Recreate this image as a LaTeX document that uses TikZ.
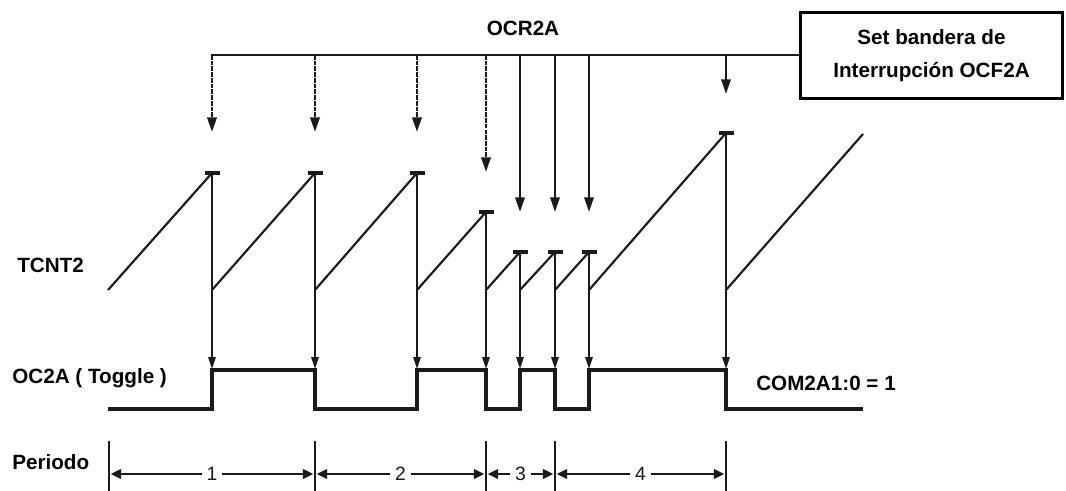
\documentclass[tikz,border=0pt]{standalone}
\usepackage{fontspec}
\setmainfont{Liberation Sans}
\usetikzlibrary{arrows.meta}
\definecolor{ink}{HTML}{1A1A1A}
\begin{document}
\begin{tikzpicture}[x=0.75pt,y=-0.75pt,
  lbl/.style={font=\bfseries\fontsize{15.5}{18}\selectfont, inner sep=0pt, text=black},
  num/.style={font=\fontsize{14.5}{16}\selectfont, inner sep=3.5pt, text=ink},
  bus/.style={draw=ink, line width=2pt},
  dasharrow/.style={draw=ink, line width=2pt, dash pattern=on 3.5pt off 0.8pt, -{Triangle[length=11pt,width=7pt]}},
  solarrow/.style={draw=ink, line width=1.7pt, -{Triangle[length=11pt,width=7pt]}},
  ramp/.style={draw=ink, line width=1.6pt},
  resetline/.style={draw=ink, line width=1.4pt, -{Triangle[length=9pt,width=5.5pt]}},
  topbar/.style={draw=ink, line width=2.6pt},
  wave/.style={draw=ink, line width=2.3pt, line join=miter},
  perbar/.style={draw=ink, line width=2.2pt},
  per/.style={draw=ink, line width=1.9pt, -{Triangle[length=8pt,width=7pt]}},
  flagbox/.style={draw=black, line width=2.1pt, minimum width=197pt, minimum height=65pt, align=center,
    font=\bfseries\fontsize{15.5}{24.5}\selectfont, inner sep=0pt}
]
\useasboundingbox (0,0) rectangle (1066,491);

% labels
\node[lbl] (ocr) at (523,28) {OCR2A};
\node[lbl, anchor=west] (tcnt) at (17,265) {TCNT2};
\node[lbl, anchor=west] (oc2a) at (12,378) {OC2A ( Toggle )};
\node[lbl, anchor=west] (periodo) at (12,462) {Periodo};
\node[lbl, anchor=west] (com) at (756,383) {COM2A1:0 = 1};
\node[flagbox] (flag) at (931.5,55.5) {Set bandera de\\Interrupción OCF2A};

% bus
\coordinate (b0) at (211,55);
\draw[bus] (b0) -- (flag.west |- b0);

% arrows from the bus
\foreach \x/\tip/\st in {212/132/dasharrow,315/132/dasharrow,417/132/dasharrow,486/172/dasharrow,520/212/solarrow,555/212/solarrow,589/212/solarrow,726/94/solarrow}{
  \coordinate (tap\x) at (\x,55);
  \coordinate (tip\x) at (\x,\tip);
  \draw[\st] (tap\x) -- (tip\x);
}

% sawtooth
\foreach \a/\b/\top in {108/212/173,212/315/173,315/417/173,417/486/212,486/520/252,520/555/252,555/589/252,589/726/133}{
  \coordinate (lo\a) at (\a,290);
  \coordinate (hi\b) at (\b,\top);
  \draw[ramp] (lo\a) -- (hi\b);
  \draw[topbar] (\b-7,\top) -- (\b+8,\top);
  \draw[resetline] (hi\b) -- (\b,369);
}
\coordinate (lo726) at (726,290);
\coordinate (rampend) at (863,134);
\draw[ramp] (lo726) -- (rampend);

% OC2A waveform
\draw[wave] (108,409) -- (212,409) -- (212,370) -- (315,370) -- (315,409) -- (417,409) -- (417,370)
  -- (486,370) -- (486,409) -- (520,409) -- (520,370) -- (555,370) -- (555,409) -- (589,409)
  -- (589,370) -- (726,370) -- (726,409) -- (863,409);

% period bars
\foreach \x in {109,315,486,555,726}{
  \coordinate (pt\x) at (\x,441);
  \coordinate (pb\x) at (\x,491);
  \draw[perbar] (pt\x) -- (pb\x);
}
\foreach \a/\b/\n in {109/315/1,315/486/2,486/555/3,555/726/4}{
  \node[num] (p\n) at ({(\a+\b)/2},474) {\n};
  \draw[per] (p\n.west) -- (\a+1.5,474);
  \draw[per] (p\n.east) -- (\b-1.5,474);
}
\end{tikzpicture}
\end{document}
